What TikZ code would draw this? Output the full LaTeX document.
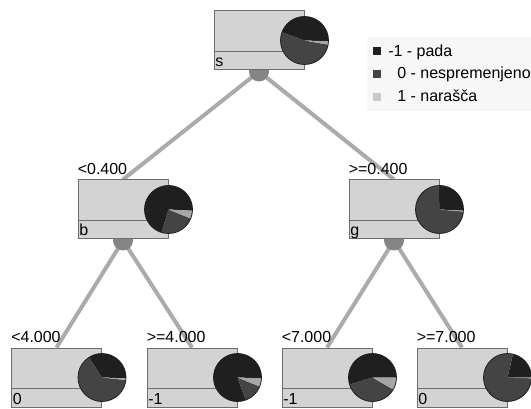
\documentclass[tikz,border=0pt]{standalone}
\usepackage{fontspec}
\setmainfont{Liberation Sans}
\definecolor{piedark}{HTML}{1F1F1F}
\definecolor{piemid}{HTML}{444444}
\definecolor{pielight}{HTML}{A6A6A6}
\definecolor{keylight}{HTML}{C9C9C9}
\definecolor{boxfill}{HTML}{D3D3D3}
\definecolor{boxgray}{HTML}{6E6E6E}
\definecolor{edgegray}{HTML}{ABABAB}
\definecolor{knobgray}{HTML}{858585}
\definecolor{keyback}{HTML}{F7F7F7}
\usetikzlibrary{calc,backgrounds}

% pie of one tree node: centre, then the angles where dark, mid and light start
\newcommand{\splitpie}[4]{%
  \begin{scope}[shift={(#1)}, yscale=-1]
    \fill[piedark] (0,0) -- (#2:24) arc[start angle=#2, end angle=#3, radius=24] -- cycle;
    \fill[piemid] (0,0) -- (#3:24) arc[start angle=#3, end angle=#4, radius=24] -- cycle;
    \fill[pielight] (0,0) -- (#4:24) arc[start angle=#4, end angle=#2+360, radius=24] -- cycle;
    \draw[piedark, line width=0.6pt] (0,0) circle (24);
  \end{scope}}

\tikzset{
  treebox/.style={draw=boxgray, fill=boxfill, line width=0.75pt,
    minimum width=67.5pt, minimum height=44.25pt, inner sep=0pt},
  treeedge/.style={draw=edgegray, line width=3pt},
  knob/.style={fill=knobgray},
  txt/.style={anchor=base west, inner sep=0pt, font=\fontsize{12}{14}\selectfont},
  keybox/.style={minimum size=6pt, inner sep=0pt},
}

\begin{document}
\begin{tikzpicture}[x=0.75pt, y=-0.75pt]
\useasboundingbox (0,0) rectangle (531,409);

% --- Legend ---
\fill[keyback] (367,37) rectangle (531,111);
\node[keybox, fill=piedark] (k1) at (377,51.5) {};
\node[keybox, fill=piemid] (k2) at (377,74) {};
\node[keybox, fill=keylight] (k3) at (377,97) {};
\node[txt] (k1t) at (388,56.5) {-1 - pada};
\node[txt] (k2t) at (397,79) {0 - nespremenjeno};
\node[txt] (k3t) at (397,102) {1 - narašča};

% --- Tree boxes ---
\node[treebox] (s) at (259,40.5) {};
\node[treebox] (b) at (123,209.5) {};
\node[treebox] (g) at (394,209.5) {};
\node[treebox] (b0) at (56.5,377.5) {};
\node[treebox] (b1) at (192,377.5) {};
\node[treebox] (g1) at (327,377.5) {};
\node[treebox] (g0) at (462,377.5) {};

% knobs under parents
\coordinate (sk) at ($(s.south)+(0,1)$);
\coordinate (bk) at ($(b.south)+(0,1)$);
\coordinate (gk) at ($(g.south)+(0,1)$);

% --- Edges and knobs, behind the boxes ---
\begin{scope}[on background layer]
  \draw[treeedge] (sk) -- (b.north);
  \draw[treeedge] (sk) -- (g.north);
  \draw[treeedge] (bk) -- (b0.north);
  \draw[treeedge] (bk) -- (b1.north);
  \draw[treeedge] (gk) -- (g1.north);
  \draw[treeedge] (gk) -- (g0.north);
  \foreach \k in {sk,bk,gk}
    \fill[knob] (\k) circle (10);
\end{scope}

% dividers and node texts
\foreach \n/\v in {s/s, b/b, g/g, b0/0, b1/-1, g1/-1, g0/0} {
  \draw[boxgray, line width=0.75pt] ($(\n.south west)+(0,-19)$) -- ($(\n.south east)+(0,-19)$);
  \node[txt] (\n v) at ($(\n.south west)+(1.5,-3.5)$) {\v};
}

% split conditions
\node[txt] (bc) at ($(b.north west)+(0,-5)$) {<0.400};
\node[txt] (gc) at ($(g.north west)+(0,-5)$) {>=0.400};
\node[txt] (b0c) at ($(b0.north west)+(0,-5)$) {<4.000};
\node[txt] (b1c) at ($(b1.north west)+(0,-5)$) {>=4.000};
\node[txt] (g1c) at ($(g1.north west)+(0,-5)$) {<7.000};
\node[txt] (g0c) at ($(g0.north west)+(0,-5)$) {>=7.000};

% --- Pies ---
\splitpie{s.east}{-2}{160}{350}
\splitpie{b.east}{-3}{253}{338}
\splitpie{g.east}{-3}{92}{355}
\splitpie{b0.east}{-2}{123}{354}
\splitpie{b1.east}{-2}{290}{338}
\splitpie{g1.east}{0}{197}{330}
\splitpie{g0.east}{0}{77}{358}

\end{tikzpicture}
\end{document}
